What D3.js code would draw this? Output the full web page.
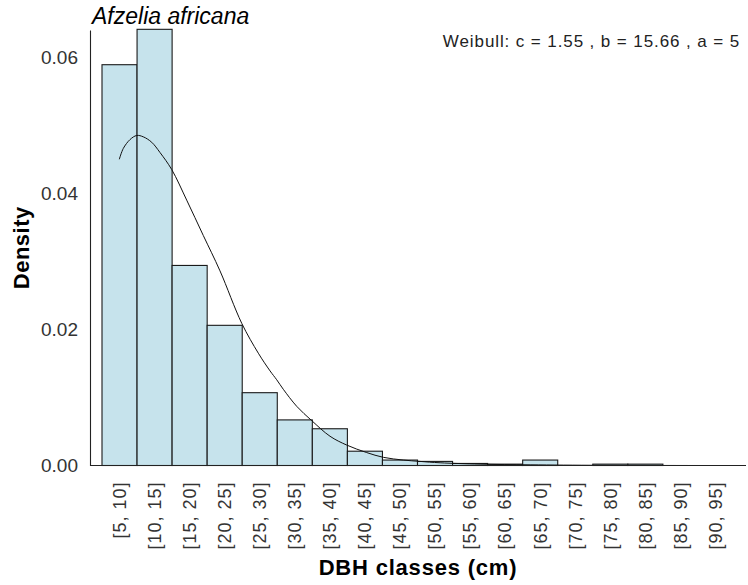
<!DOCTYPE html>
<html>
<head>
<meta charset="utf-8">
<script src="https://d3js.org/d3.v7.min.js"></script>
<style>
  body { margin: 0; background: #fff; }
  text { font-family: "Liberation Sans", Arial, sans-serif; }
</style>
</head>
<body>
<svg id="chart" width="748" height="585"></svg>
<script>
// DBH classes (cm) and their densities
var classLow  = [5, 10, 15, 20, 25, 30, 35, 40, 45, 50, 55, 60, 65, 70, 75, 80, 85, 90];
var classHigh = [10, 15, 20, 25, 30, 35, 40, 45, 50, 55, 60, 65, 70, 75, 80, 85, 90, 95];
var classLabels = classLow.map(function(d, i) { return "[" + d + ", " + classHigh[i] + "]"; });
var density = [0.0589, 0.0641, 0.0294, 0.0206, 0.0107, 0.0067, 0.0054, 0.0021, 0.0008,
               0.0006, 0.0003, 0.0002, 0.0008, 0, 0.0002, 0.0002, 0, 0];

// fitted weibull curve
var curveDbh = [7.47, 8.04, 9.0, 9.95, 10.89, 12.09, 13.27, 14.94, 17.08, 19.45, 21.83,
                24.93, 27.30, 28.97, 29.92, 30.86, 32.77, 34.91, 37.52, 39.91, 42.76,
                45.13, 47.98, 50.36, 53.22, 58.92, 66.06, 76.04, 90.3];
var curveDens = [0.0450, 0.0466, 0.0479, 0.0485, 0.0483, 0.0475, 0.0460, 0.0435, 0.0390,
                 0.0338, 0.0286, 0.0209, 0.0165, 0.0139, 0.0126, 0.0112, 0.0087, 0.0066,
                 0.0043, 0.0030, 0.0019, 0.0012, 0.0008, 0.0006, 0.0004, 0.0002, 0.0001,
                 0.00003, 0];

var yTicks = [0, 0.02, 0.04, 0.06];
var species = "Afzelia africana";
var fitLabel = "Weibull: c = 1.55 , b = 15.66 , a = 5";

var svg = d3.select("#chart");
var plotL = 90, plotR = 746, plotT = 30, plotB = 465.5;

var x = d3.scaleBand().domain(classLabels).range([102, 733]).padding(0);
var xc = d3.scaleLinear().domain([5, 95]).range([102, 733]);
var y = d3.scaleLinear().domain([0, 0.064]).range([plotB, plotT]);

// bars
svg.append("g").selectAll("rect")
    .data(density)
    .enter()
    .append("rect")
    .attr("x", function(d, i) { return x(classLabels[i]); })
    .attr("y", function(d) { return y(d); })
    .attr("width", x.bandwidth())
    .attr("height", function(d) { return plotB - y(d); })
    .attr("fill", "#c6e3ec")
    .attr("stroke", "#1a1a1a")
    .attr("stroke-width", 1.1);

// curve
var line = d3.line()
    .x(function(d, i) { return xc(curveDbh[i]); })
    .y(function(d) { return y(d); })
    .curve(d3.curveCatmullRom);
svg.append("path")
    .attr("d", line(curveDens))
    .attr("fill", "none")
    .attr("stroke", "#111")
    .attr("stroke-width", 1);

// y axis
var yAxis = svg.append("g")
    .attr("transform", "translate(" + plotL + ",0)")
    .call(d3.axisLeft(y).tickValues(yTicks).tickFormat(d3.format(".2f"))
        .tickSize(0).tickSizeOuter(0).tickPadding(12));
yAxis.select(".domain").attr("stroke", "#222").attr("stroke-width", 1.1);
yAxis.selectAll("text")
    .style("font-family", "Liberation Sans, Arial, sans-serif")
    .style("font-size", "19px")
    .attr("fill", "#333");

// x axis
var xAxis = svg.append("g")
    .attr("transform", "translate(0," + plotB + ")")
    .call(d3.axisBottom(x).tickSize(0));
xAxis.select(".domain").remove();
xAxis.selectAll("text")
    .attr("transform", "rotate(-90)")
    .attr("x", -16)
    .attr("y", 0)
    .attr("dy", "0.35em")
    .attr("text-anchor", "end")
    .style("font-family", "Liberation Sans, Arial, sans-serif")
    .style("font-size", "18px")
    .style("letter-spacing", "1px")
    .attr("fill", "#333");
svg.append("line")
    .attr("x1", plotL).attr("x2", plotR)
    .attr("y1", plotB).attr("y2", plotB)
    .attr("stroke", "#222").attr("stroke-width", 1.1);

// titles
svg.append("text")
    .attr("x", 92).attr("y", 24)
    .style("font-size", "23px")
    .style("font-style", "italic")
    .text(species);

svg.append("text")
    .attr("x", 740).attr("y", 47)
    .attr("text-anchor", "end")
    .style("font-size", "17px")
    .style("letter-spacing", "0.9px")
    .attr("fill", "#222")
    .text(fitLabel);

svg.append("text")
    .attr("transform", "translate(29," + ((plotT + plotB) / 2) + ") rotate(-90)")
    .attr("text-anchor", "middle")
    .style("font-size", "22px")
    .style("font-weight", "bold")
    .style("letter-spacing", "0.5px")
    .text("Density");

svg.append("text")
    .attr("x", (plotL + plotR) / 2).attr("y", 575)
    .attr("text-anchor", "middle")
    .style("font-size", "22px")
    .style("font-weight", "bold")
    .style("letter-spacing", "0.8px")
    .text("DBH classes (cm)");
</script>
</body>
</html>
